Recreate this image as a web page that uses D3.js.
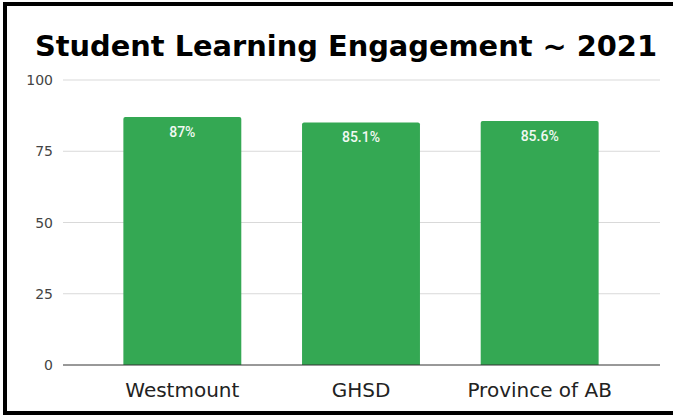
<!DOCTYPE html>
<html><head><meta charset="utf-8">
<script src="https://cdn.jsdelivr.net/npm/d3@7"></script>
<style>html,body{margin:0;padding:0;background:#fff;}svg{display:block;}</style>
</head><body>
<svg id="chart" width="673" height="415"></svg>
<script>
const categories = ["Westmount", "GHSD", "Province of AB"];
const values = [87, 85.1, 85.6];
const valueLabels = ["87%", "85.1%", "85.6%"];
const yTicks = [0, 25, 50, 75, 100];
const title = "Student Learning Engagement ~ 2021";

const svg = d3.select("#chart");
const W = 673, H = 415;
svg.append("rect").attr("width", W).attr("height", H).attr("fill", "#fff");

const y = d3.scaleLinear().domain([0, 100]).range([365, 80]);
const x = d3.scaleBand().domain(categories).range([93, 629]).paddingInner(0.34).paddingOuter(0.17);

// gridlines
svg.append("g").selectAll("line").data(yTicks.filter(d => d > 0)).join("line")
  .attr("x1", 63).attr("x2", 660)
  .attr("y1", d => y(d)).attr("y2", d => y(d))
  .attr("stroke", "#d9d9d9").attr("stroke-width", 1);

// y labels
svg.append("g").selectAll("text").data(yTicks).join("text")
  .attr("x", 53).attr("y", d => y(d) + 5)
  .attr("text-anchor", "end")
  .attr("font-family", "DejaVu Sans, Verdana, sans-serif")
  .attr("font-size", 14).attr("fill", "#444")
  .text(d => d);

// bars
svg.append("g").selectAll("path").data(values).join("path")
  .attr("d", (d, i) => {
    const x0 = x(categories[i]), w = x.bandwidth(), y0 = y(d), y1 = y(0), r = 2;
    return `M${x0},${y1}V${y0 + r}Q${x0},${y0} ${x0 + r},${y0}H${x0 + w - r}Q${x0 + w},${y0} ${x0 + w},${y0 + r}V${y1}Z`;
  })
  .attr("fill", "#34a853");

// baseline
svg.append("line").attr("x1", 63).attr("x2", 660).attr("y1", y(0)).attr("y2", y(0))
  .attr("stroke", "#333").attr("stroke-width", 1);

// value labels
svg.append("g").selectAll("text").data(values).join("text")
  .attr("x", (d, i) => x(categories[i]) + x.bandwidth() / 2)
  .attr("y", d => y(d) + 19.5)
  .attr("text-anchor", "middle")
  .attr("font-family", "Roboto, sans-serif").attr("font-weight", 500)
  .attr("font-size", 14).attr("fill", "#f1f8f2")
  .text((d, i) => valueLabels[i]);

// x labels
svg.append("g").selectAll("text").data(categories).join("text")
  .attr("x", d => x(d) + x.bandwidth() / 2)
  .attr("y", 397)
  .attr("text-anchor", "middle")
  .attr("font-family", "DejaVu Sans, Verdana, sans-serif")
  .attr("font-size", 20).attr("fill", "#222")
  .text(d => d);

// title
svg.append("text").attr("x", 346).attr("y", 56)
  .attr("text-anchor", "middle")
  .attr("font-family", "DejaVu Sans, Verdana, sans-serif").attr("font-weight", "bold")
  .attr("font-size", 29).attr("fill", "#000")
  .attr("textLength", 622).attr("lengthAdjust", "spacingAndGlyphs")
  .text(title);

// border (left, top, bottom)
svg.append("rect").attr("x", 3).attr("y", 2).attr("width", 4).attr("height", 413).attr("fill", "#000");
svg.append("rect").attr("x", 3).attr("y", 2).attr("width", 670).attr("height", 4).attr("fill", "#000");
svg.append("rect").attr("x", 3).attr("y", 411).attr("width", 670).attr("height", 4).attr("fill", "#000");
</script>
</body></html>
